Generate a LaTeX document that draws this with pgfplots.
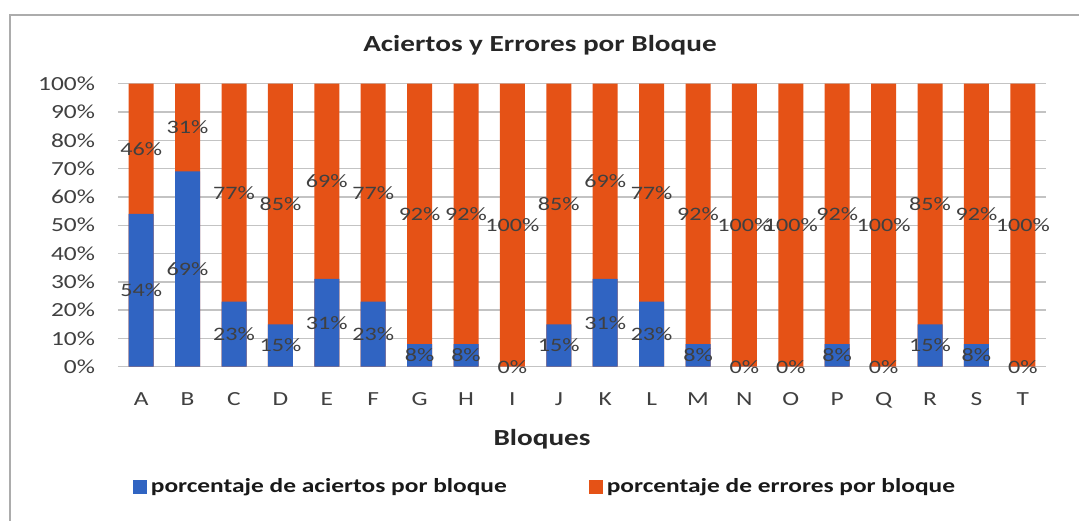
\documentclass[border=0pt]{standalone}
\usepackage{pgfplots}
\pgfplotsset{compat=1.18}
\usepackage{pgfplotstable}
\usepackage{fontspec}
\setmainfont[FakeStretch=1.27]{Carlito}
\definecolor{bblue}{RGB}{48,100,194}
\definecolor{borange}{RGB}{229,82,22}
\definecolor{tgrey}{RGB}{64,64,64}
\definecolor{gridc}{RGB}{195,195,195}

\pgfplotstableread{
x a e
0 54 46
1 69 31
2 23 77
3 15 85
4 31 69
5 23 77
6 8 92
7 8 92
8 0 100
9 15 85
10 31 69
11 23 77
12 8 92
13 0 100
14 0 100
15 8 92
16 0 100
17 15 85
18 8 92
19 0 100
}\datatable

\begin{document}
\begin{tikzpicture}
\useasboundingbox (-59pt,-76.65pt) rectangle (480.5pt,183.35pt);
\draw[color=gray!65, line width=1pt] (-54pt,-90pt) -- (-54pt,175.85pt) -- (490pt,175.85pt);
\begin{axis}[
  at={(0,0)}, anchor=south west,
  scale only axis, width=464pt, height=141.5pt,
  xmin=-0.5, xmax=19.5, ymin=0, ymax=100,
  xtick={0,...,19},
  xticklabels={A,B,C,D,E,F,G,H,I,J,K,L,M,N,O,P,Q,R,S,T},
  ytick={0,10,...,100},
  /pgf/number format/assume math mode=true,
  yticklabel={\pgfmathprintnumber{\tick}\%},
  ymajorgrids, grid style={color=gridc, line width=0.7pt},
  axis line style={draw=none},
  major tick length=0pt,
  tick label style={font=\fontsize{10}{12}\selectfont, text=tgrey},
  yticklabel style={anchor=east, xshift=-8pt},
  xticklabel style={yshift=-9.5pt},
  legend style={at={(0.4612,-0.424)}, anchor=center, draw=none, fill=none,
    legend columns=2, font=\bfseries\fontsize{10}{12}\selectfont, text=black!90,
    /tikz/every even column/.append style={column sep=39pt}},
  legend image code/.code={\fill[#1] (0pt,-3.5pt) rectangle (7pt,3.5pt);},
]
\addplot[ybar, bar width=12.5pt, bar shift=0pt, fill=borange, draw=none, forget plot]
  table[x=x, y expr=\thisrow{a}+\thisrow{e}] {\datatable};
\addplot[ybar, bar width=12.5pt, bar shift=0pt, fill=bblue, draw=none, forget plot]
  table[x=x, y=a] {\datatable};
\addplot[only marks, mark=*, mark size=0pt, mark options={draw=none, fill=none}, forget plot,
  point meta=\thisrow{a},
  nodes near coords={\pgfmathprintnumber{\pgfplotspointmeta}\%},
  nodes near coords align=center,
  every node near coord/.append style={anchor=center, text=tgrey, font=\fontsize{9.5}{11}\selectfont}]
  table[x=x, y expr=\thisrow{a}/2] {\datatable};
\addplot[only marks, mark=*, mark size=0pt, mark options={draw=none, fill=none}, forget plot,
  point meta=\thisrow{e},
  nodes near coords={\pgfmathprintnumber{\pgfplotspointmeta}\%},
  nodes near coords align=center,
  every node near coord/.append style={anchor=center, text=tgrey, font=\fontsize{9.5}{11}\selectfont}]
  table[x=x, y expr=\thisrow{a}+\thisrow{e}/2] {\datatable};
\addlegendimage{fill=bblue, draw=none}
\addlegendentry{porcentaje de aciertos por bloque}
\addlegendimage{fill=borange, draw=none}
\addlegendentry{porcentaje de errores por bloque}
\end{axis}
\node[font=\bfseries\fontsize{11.5}{14}\selectfont, text=black!85] at (211pt,160.85pt) {Aciertos y Errores por Bloque};
\node[font=\bfseries\fontsize{11.5}{14}\selectfont, text=black!85] at (212pt,-36.5pt) {Bloques};
\end{tikzpicture}
\end{document}
